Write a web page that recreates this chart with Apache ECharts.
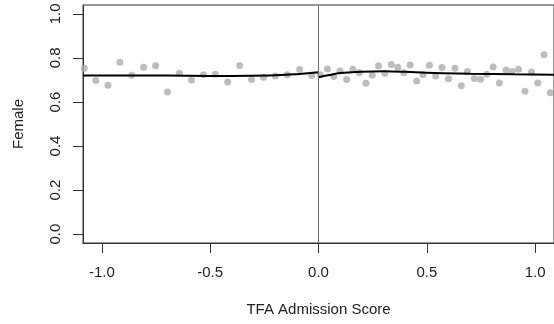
<!DOCTYPE html>
<html>
<head>
<meta charset="utf-8">
<script src="https://cdn.jsdelivr.net/npm/echarts@6/dist/echarts.min.js"></script>
<style>html,body{margin:0;padding:0;background:#fff;}#c{width:554px;height:324px;}</style>
</head>
<body>
<div id="c"></div>
<script>
const leftX = [-1.081,-1.028,-0.972,-0.917,-0.862,-0.807,-0.752,-0.697,-0.642,-0.586,-0.531,-0.476,-0.419,-0.364,-0.309,-0.254,-0.199,-0.144,-0.087,-0.031];
const leftY = [0.753,0.697,0.676,0.780,0.721,0.758,0.764,0.645,0.730,0.700,0.724,0.726,0.691,0.765,0.702,0.712,0.718,0.724,0.747,0.720];
const rightX = [0.008,0.041,0.070,0.099,0.130,0.159,0.188,0.219,0.248,0.277,0.306,0.336,0.366,0.394,0.423,0.453,0.482,0.512,0.541,0.570,0.600,0.630,0.659,0.688,0.719,0.748,0.777,0.806,0.835,0.866,0.894,0.923,0.953,0.983,1.012,1.041,1.070];
const rightY = [0.724,0.750,0.715,0.741,0.702,0.749,0.733,0.685,0.721,0.764,0.730,0.770,0.758,0.733,0.768,0.695,0.724,0.767,0.718,0.756,0.705,0.753,0.674,0.738,0.706,0.703,0.726,0.759,0.686,0.745,0.738,0.749,0.649,0.736,0.686,0.814,0.642];
const leftFitX = [-1.087,-0.8,-0.6,-0.4,-0.2,-0.1,0];
const leftFitY = [0.720,0.720,0.719,0.718,0.721,0.726,0.735];
const rightFitX = [0,0.05,0.1,0.2,0.3,0.4,0.5,0.7,0.9,1.087];
const rightFitY = [0.712,0.722,0.731,0.737,0.739,0.737,0.732,0.728,0.726,0.724];
const xTicks = [-1.0,-0.5,0.0,0.5,1.0];
const yTicks = [0.0,0.2,0.4,0.6,0.8,1.0];
const xTitle = 'TFA Admission Score';
const yTitle = 'Female';

const zip = (a,b) => a.map((v,i)=>[v,b[i]]);
const font = 'Liberation Sans, Arial, Helvetica, sans-serif';
const chart = echarts.init(document.getElementById('c'), null, {renderer:'canvas'});
chart.setOption({
  animation:false,
  grid:{left:83, right:-3, top:5, bottom:81, show:true, borderColor:'#333', borderWidth:1, backgroundColor:'transparent'},
  xAxis:{
    type:'value', min:-1.087, max:1.087,
    splitLine:{show:false},
    axisLine:{show:true, onZero:false, lineStyle:{color:'#333', width:1}},
    axisTick:{show:true, length:10, lineStyle:{color:'#333'}, customValues:xTicks},
    axisLabel:{customValues:xTicks, formatter:v=>v.toFixed(1), margin:22, fontSize:15, color:'#222', fontFamily:font},
    name:xTitle, nameLocation:'middle', nameGap:59,
    nameTextStyle:{fontSize:15, color:'#222', fontFamily:font}
  },
  yAxis:{
    type:'value', min:-0.04, max:1.04,
    splitLine:{show:false},
    axisLine:{show:true, onZero:false, lineStyle:{color:'#333', width:1}},
    axisTick:{show:true, length:10, lineStyle:{color:'#333'}, customValues:yTicks},
    axisLabel:{customValues:yTicks, formatter:v=>v.toFixed(1), rotate:90, margin:20, fontSize:15, color:'#222', fontFamily:font},
    name:yTitle, nameLocation:'middle', nameGap:57, nameRotate:90,
    nameTextStyle:{fontSize:15, color:'#222', fontFamily:font}
  },
  series:[
    {type:'scatter', data:zip(leftX,leftY), symbolSize:7, itemStyle:{color:'#acacac'}, z:2},
    {type:'scatter', data:zip(rightX,rightY), symbolSize:7, itemStyle:{color:'#acacac'}, z:2},
    {type:'line', data:zip(leftFitX,leftFitY), showSymbol:false, smooth:true, lineStyle:{color:'#000', width:2}, z:3,
      markLine:{silent:true, symbol:['none','none'], label:{show:false}, lineStyle:{color:'#707070', width:1, type:'solid'}, data:[{xAxis:0}]}},
    {type:'line', data:zip(rightFitX,rightFitY), showSymbol:false, smooth:true, lineStyle:{color:'#000', width:2}, z:3}
  ]
});
</script>
</body>
</html>
